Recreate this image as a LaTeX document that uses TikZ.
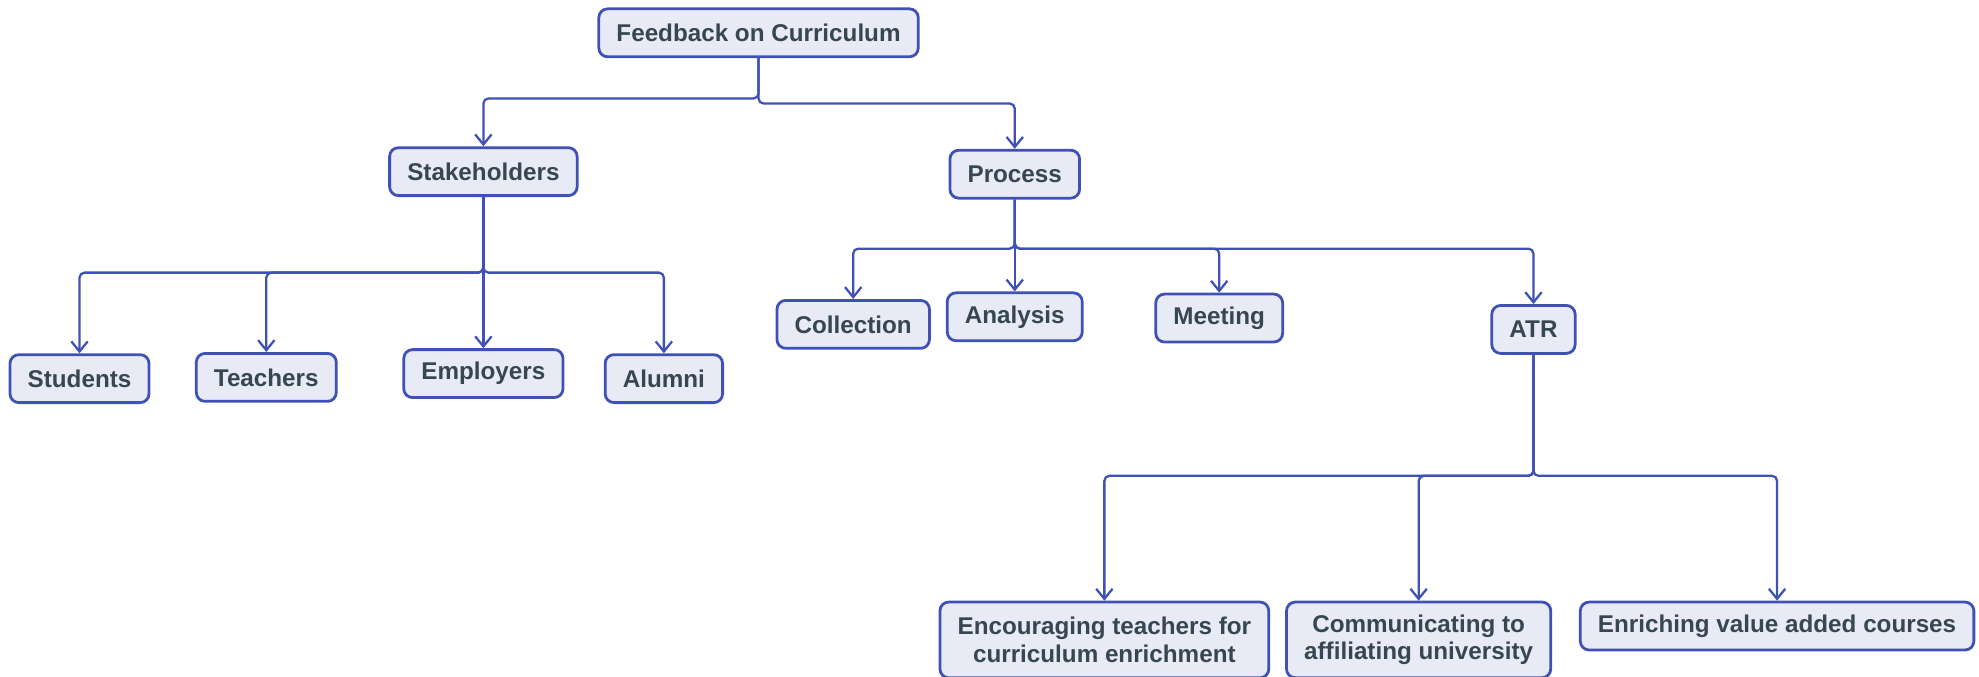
\documentclass[tikz,border=0pt]{standalone}
\usepackage{fontspec}
\setmainfont{Liberation Sans}
\usetikzlibrary{arrows.meta,positioning,calc}
\definecolor{boxline}{HTML}{3F51B5}
\definecolor{boxfill}{HTML}{E8EAF6}
\definecolor{boxtext}{HTML}{37474F}

\begin{document}
\begin{tikzpicture}
  [x=0.5pt, y=-0.5pt,
  box/.style={draw=boxline, fill=boxfill, text=boxtext, line width=1.1pt,
    rounded corners=3.5pt, inner xsep=7pt, minimum height=19pt, align=center,
    font=\fontsize{9.6}{11}\selectfont\bfseries},
  twoline/.style={box, minimum height=30pt},
  link/.style={draw=boxline, line width=0.9pt, rounded corners=2pt,
    -{Straight Barb[length=4pt,width=6.5pt]}},
 ]
  \useasboundingbox (0,0) rectangle (1568,536);

  % top level
  \node[box] (feed) at (601,26) {Feedback on Curriculum};
  \node[box] (stake) at (383,136) {Stakeholders};
  \node[box] (proc) at (804,138) {Process};

  % stakeholders
  \node[box] (stud) at (63,300) {Students};
  \node[box] (teach) at (211,299) {Teachers};
  \node[box] (emp) at (383,296) {Employers};
  \node[box] (alum) at (526,300) {Alumni};

  % process steps
  \node[box] (coll) at (676,257) {Collection};
  \node[box] (anal) at (804,251) {Analysis};
  \node[box] (meet) at (966,252) {Meeting};
  \node[box] (atr) at (1215,261) {ATR};

  % action taken report
  \node[twoline] (enc) at (875,507) {Encouraging teachers for\\curriculum enrichment};
  \node[twoline] (comm) at (1124,507) {Communicating to\\affiliating university};
  \node[box] (enr) at (1408,496) {Enriching value added courses};

  % fork points
  \coordinate (f1) at (601,78);
  \coordinate (f2) at (601,82);
  \coordinate (s1) at (383,216);
  \coordinate (p1) at (804,197);
  \coordinate (a1) at (1215,377);

  \draw[link] (feed.south) -- (feed.south |- f1) -| (stake.north);
  \draw[link] (feed.south) -- (feed.south |- f2) -| (proc.north);

  \foreach \n in {stud,teach,alum}
    \draw[link] (stake.south) -- (stake.south |- s1) -| (\n.north);
  \draw[link] (stake.south) -- (emp.north);

  \foreach \n in {coll,meet,atr}
    \draw[link] (proc.south) -- (proc.south |- p1) -| (\n.north);
  \draw[link] (proc.south) -- (anal.north);

  \foreach \n in {enc,comm,enr}
    \draw[link] (atr.south) -- (atr.south |- a1) -| (\n.north);
\end{tikzpicture}
\end{document}
